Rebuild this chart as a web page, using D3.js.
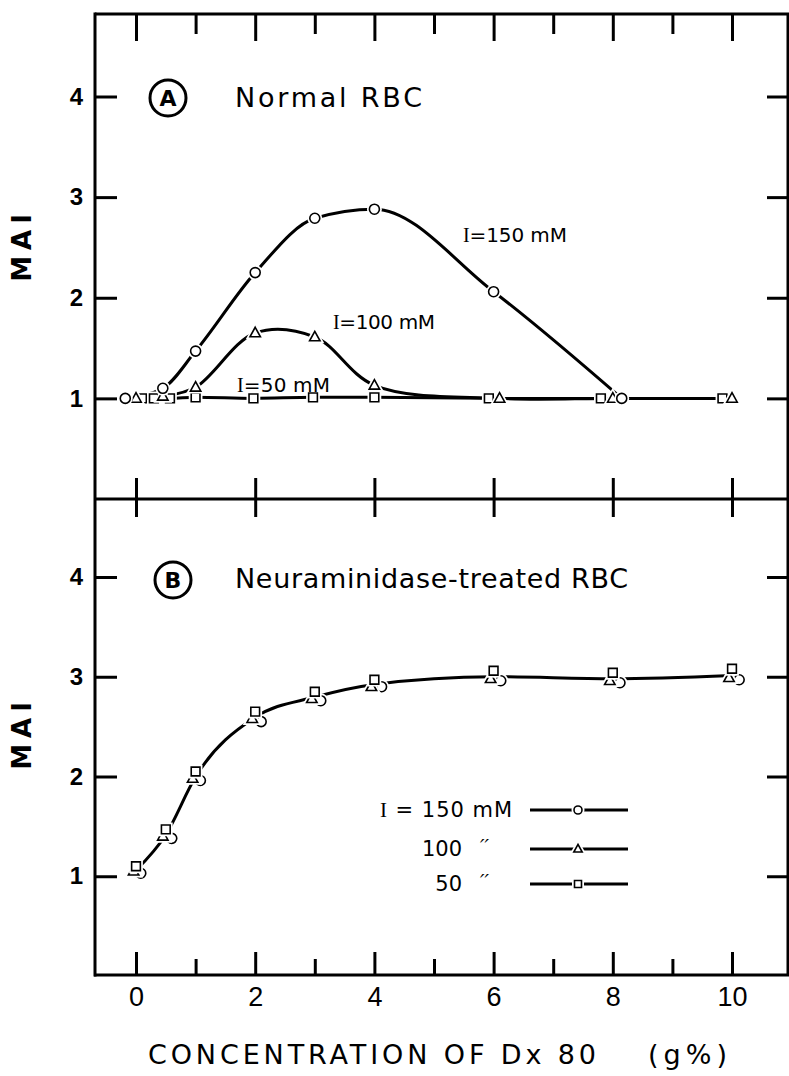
<!DOCTYPE html>
<meta charset="utf-8">
<title>MAI vs concentration of Dx80</title>
<style>
  html, body { margin: 0; padding: 0; background: #fff; }
  svg { display: block; }
  text { font-family: 'DejaVu Sans', 'Liberation Sans', sans-serif; fill: #000; }
  .frame line { stroke: #000; stroke-width: 3px; }
  .axis path.domain { display: none; }
  .axis line { stroke: #000; stroke-width: 3px; }
  .axis text { font-family: 'Liberation Sans', sans-serif; font-weight: bold; font-size: 24px; }
  .curve { fill: none; stroke: #000; stroke-width: 3px; stroke-linecap: round; }
  .halo { fill: #fff; stroke: #fff; stroke-width: 5px; }
  .mark { fill: #fff; stroke: #000; stroke-width: 1.6px; }
  .serif { font-family: 'Liberation Serif', 'DejaVu Serif', serif; }
</style>
<svg width="789" height="1076"></svg>
<script src="https://cdn.jsdelivr.net/npm/d3@7/dist/d3.min.js"></script>
<script>
  /* global d3 */
  'use strict'

  // ---- data ----
  const xMajor = [0, 2, 4, 6, 8, 10]
  const xMinor = [1, 3, 5, 7, 9]
  const yTicks = [1, 2, 3, 4]

  // Panel A: normal RBC, [concentration, MAI]
  const a150 = [[-0.18, 1.0], [0.45, 1.1], [1, 1.47], [2, 2.25], [3, 2.79], [4, 2.88], [6, 2.06], [8.15, 1.0]]
  const a100 = [[0.0, 1.0], [0.45, 1.02], [1, 1.11], [2, 1.65], [3, 1.61], [4, 1.13], [6.1, 1.0], [8.0, 1.0], [10.0, 1.0]]
  const a50 = [[0.1, 1.0], [0.3, 1.0], [0.57, 1.0], [1, 1.01], [1.97, 1.0], [2.97, 1.01], [4, 1.01], [5.92, 1.0], [7.8, 1.0], [9.84, 1.0]]

  // Panel B: neuraminidase-treated RBC
  const b150 = [[0.08, 1.03], [0.6, 1.38], [1.08, 1.96], [2.1, 2.55], [3.1, 2.76], [4.12, 2.9], [6.12, 2.96], [8.12, 2.94], [10.12, 2.97]]
  const b100 = [[-0.04, 1.05], [0.45, 1.4], [0.95, 1.98], [1.95, 2.58], [2.95, 2.78], [3.95, 2.9], [5.95, 2.98], [7.95, 2.96], [9.95, 2.99]]
  const b50 = [[0, 1.1], [0.5, 1.47], [1, 2.05], [2, 2.65], [3, 2.85], [4, 2.97], [6, 3.06], [8, 3.04], [10, 3.08]]

  const legendRows = ['150 mM', '100', '50']
  const shapes = ['circle', 'triangle', 'square']

  // ---- layout ----
  const fL = 95, fR = 788, fT = 14, fM = 499, fB = 975
  const svg = d3.select('svg')

  const x = d3.scaleLinear().domain([0, 10]).range([136, 732])
  const yA = d3.scaleLinear().domain([0, 4]).range([fM, 96.5])
  const yB = d3.scaleLinear().domain([0, 4]).range([976, 577])

  // frame
  const frame = svg.append('g').attr('class', 'frame')
  ;[[fL, fT, fR + 1, fT], [fL, fM, fR + 1, fM], [fL - 1, fB, fR + 1, fB],
    [fL, fT - 1.5, fL, fB + 1.5], [fR, fT, fR, fB]]
    .forEach(([x1, y1, x2, y2]) => frame.append('line')
      .attr('x1', x1).attr('y1', y1).attr('x2', x2).attr('y2', y2))

  function ticks(axis, tx, ty) {
    return svg.append('g').attr('class', 'axis')
      .attr('transform', `translate(${tx},${ty})`)
      .call(axis)
  }
  const noLabel = () => ''
  const intLabel = d3.format('d')

  // top edge: major + minor ticks pointing down
  ticks(d3.axisTop(x).tickValues(xMajor).tickSize(-27).tickFormat(noLabel), 0, fT)
  ticks(d3.axisTop(x).tickValues(xMinor).tickSize(-20).tickFormat(noLabel), 0, fT)
  // divider: even ticks crossing the line
  ticks(d3.axisTop(x).tickValues(xMajor).tickSize(21).tickFormat(noLabel), 0, fM)
  ticks(d3.axisBottom(x).tickValues(xMajor).tickSize(18).tickFormat(noLabel), 0, fM)
  // bottom axis
  ticks(d3.axisBottom(x).tickValues(xMajor).tickSizeInner(-23).tickSizeOuter(0).tickPadding(12)
    .tickFormat(intLabel), 0, fB)
    .selectAll('text').style('font-size', '27px').style('font-weight', 'normal')
  ticks(d3.axisBottom(x).tickValues(xMinor).tickSize(-16).tickFormat(noLabel), 0, fB)

  // y ticks, both panels, both sides
  ;[yA, yB].forEach(y => {
    ticks(d3.axisLeft(y).tickValues(yTicks).tickSizeInner(-22).tickSizeOuter(0).tickPadding(12)
      .tickFormat(intLabel), fL, 0)
    ticks(d3.axisRight(y).tickValues(yTicks).tickSize(-21).tickFormat(noLabel), fR, 0)
  })

  // ---- curves ----
  function curve(data, y, c) {
    svg.append('path').attr('class', 'curve')
      .attr('d', d3.line().x(d => x(d[0])).y(d => y(d[1])).curve(c)(data))
  }
  curve(a50, yA, d3.curveMonotoneX)
  curve(a100, yA, d3.curveCatmullRom)
  curve(a150, yA, d3.curveMonotoneX)

  // panel B: one curve through the middle of each marker cluster
  const bMean = b50.map((d, i) => [d[0], d3.mean([b50[i][1], b100[i][1], b150[i][1]])])
  curve(bMean, yB, d3.curveMonotoneX)

  // ---- markers ----
  function shapePath(shape, r) {
    if (shape === 'circle') return d3.symbol(d3.symbolCircle, Math.PI * r * r)()
    if (shape === 'square') return d3.symbol(d3.symbolSquare, (r * 1.75) ** 2)()
    const h = r * 1.9
    return `M0,${-h * 0.6}L${h * 0.55},${h * 0.4}L${-h * 0.55},${h * 0.4}Z`
  }
  function markers(data, y, shape, r = 5) {
    const g = svg.append('g')
    const pts = g.selectAll('g').data(data).join('g')
      .attr('transform', d => `translate(${x(d[0])},${y(d[1])})`)
    pts.append('path').attr('class', 'halo').attr('d', shapePath(shape, r))
    pts.append('path').attr('class', 'mark').attr('d', shapePath(shape, r))
  }
  markers(a50, yA, 'square')
  markers(a100, yA, 'triangle')
  markers(a150, yA, 'circle')
  markers(b150, yB, 'circle')
  markers(b100, yB, 'triangle')
  markers(b50, yB, 'square')

  // ---- text ----
  function label(g, tx, ty, parts, size, len, weight = 'normal') {
    const t = g.append('text').attr('x', tx).attr('y', ty)
      .style('font-size', size + 'px').style('font-weight', weight)
    if (len) t.attr('textLength', len).attr('lengthAdjust', 'spacing')
    parts.forEach(([s, cls]) => t.append('tspan').attr('class', cls || null).text(s))
    return t
  }

  // panel titles
  ;[['A', 168, 98, 'Normal RBC', 107, 187], ['B', 173, 580, 'Neuraminidase-treated RBC', 588, 393]]
    .forEach(([letter, cx, cy, title, base, len]) => {
      svg.append('circle').attr('cx', cx).attr('cy', cy).attr('r', 18)
        .attr('fill', 'none').attr('stroke', '#000').attr('stroke-width', 3)
      svg.append('text').attr('x', cx).attr('y', cy + 8).attr('text-anchor', 'middle')
        .style('font-size', '22px').style('font-weight', 'bold').text(letter)
      label(svg, 235, base, [[title]], 27, len)
    })

  // curve labels in A
  label(svg, 463, 242, [['I', 'serif'], ['=150 mM']], 20, 104)
  label(svg, 333, 329, [['I', 'serif'], ['=100 mM']], 20, 102)
  label(svg, 237, 392, [['I', 'serif'], ['=50 mM']], 20, 93)

  // legend in B
  const legY = [810, 849, 884]
  legendRows.forEach((row, i) => {
    if (i === 0) label(svg, 380, legY[i] + 7, [['I', 'serif'], [' = ' + row]], 21, 132)
    else {
      svg.append('text').attr('x', 462).attr('y', legY[i] + 7).attr('text-anchor', 'end')
        .style('font-size', '21px').text(row)
      svg.append('text').attr('x', 480).attr('y', legY[i] + 4)
        .style('font-size', '20px').style('font-style', 'italic').text('\u2032\u2032')
    }
    svg.append('line').attr('x1', 530).attr('x2', 628).attr('y1', legY[i]).attr('y2', legY[i])
      .attr('stroke', '#000').attr('stroke-width', 3)
    const g = svg.append('g').attr('transform', `translate(578,${legY[i]})`)
    g.append('path').attr('class', 'halo').attr('d', shapePath(shapes[i], 4))
    g.append('path').attr('class', 'mark').attr('d', shapePath(shapes[i], 4))
  })

  // axis titles
  ;[245, 733].forEach(cy => {
    svg.append('text').attr('transform', `translate(31,${cy}) rotate(-90)`)
      .attr('text-anchor', 'middle')
      .style('font-size', '26px').style('font-weight', 'bold').style('letter-spacing', '6px')
      .text('MAI')
  })
  label(svg, 148, 1064, [['CONCENTRATION  OF  Dx 80']], 27, 448)
  label(svg, 648, 1064, [['( g % )']], 27, 79)
</script>
